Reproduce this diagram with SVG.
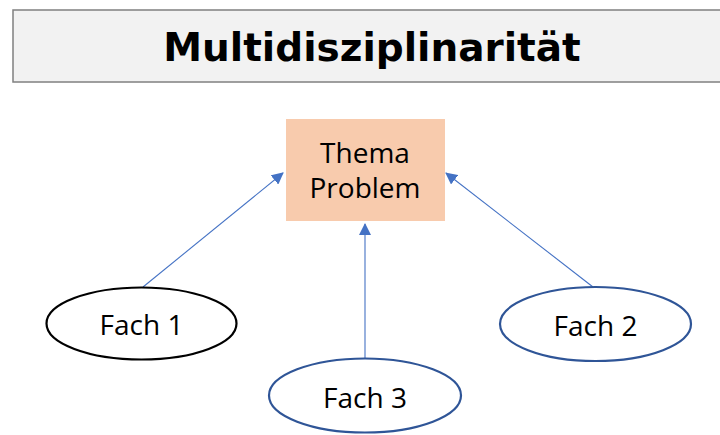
<svg xmlns="http://www.w3.org/2000/svg" width="720" height="435" viewBox="0 0 720 435">
  <style>
    .title { font-family: "Comic Sans MS", "DejaVu Sans", sans-serif; font-weight: bold; font-size: 39px; fill: #000; }
    .label { font-family: "Open Sans", "Liberation Sans", sans-serif; font-size: 28px; fill: #000; }
    .conn { stroke: #4472c4; stroke-width: 1.1; fill: none; marker-end: url(#arrow); }
    .oval { fill: #fff; stroke-width: 2.2; }
  </style>
  <defs>
    <marker id="arrow" viewBox="0 0 12 12" refX="11" refY="6" markerWidth="12" markerHeight="12" markerUnits="userSpaceOnUse" orient="auto">
      <path d="M0,0 L12,6 L0,12 Z" fill="#4472c4"/>
    </marker>
  </defs>
  <rect width="720" height="435" fill="#fff"/>

  <g id="title">
    <rect x="13" y="10" width="712" height="72" fill="#f2f2f2" stroke="#808080" stroke-width="1.5"/>
    <text class="title" x="372" y="61" text-anchor="middle">Multidisziplinarität</text>
  </g>

  <g id="connectors">
    <line class="conn" x1="143" y1="287" x2="283" y2="173"/>
    <line class="conn" x1="593" y1="287" x2="446" y2="173"/>
    <line class="conn" x1="365" y1="358" x2="365" y2="224"/>
  </g>

  <g id="thema">
    <rect x="286" y="119" width="159" height="102" fill="#f8cbad"/>
    <text class="label" x="365" y="163" text-anchor="middle">Thema</text>
    <text class="label" x="365" y="198" text-anchor="middle">Problem</text>
  </g>

  <g id="fach1">
    <ellipse class="oval" cx="141.5" cy="323.5" rx="95" ry="36" stroke="#000"/>
    <text class="label" x="141.5" y="335" text-anchor="middle">Fach 1</text>
  </g>

  <g id="fach2">
    <ellipse class="oval" cx="595.5" cy="324" rx="95.5" ry="37" stroke="#2f5597"/>
    <text class="label" x="595.5" y="336" text-anchor="middle">Fach 2</text>
  </g>

  <g id="fach3">
    <ellipse class="oval" cx="365" cy="395.5" rx="96" ry="37" stroke="#2f5597"/>
    <text class="label" x="365" y="408" text-anchor="middle">Fach 3</text>
  </g>
</svg>
